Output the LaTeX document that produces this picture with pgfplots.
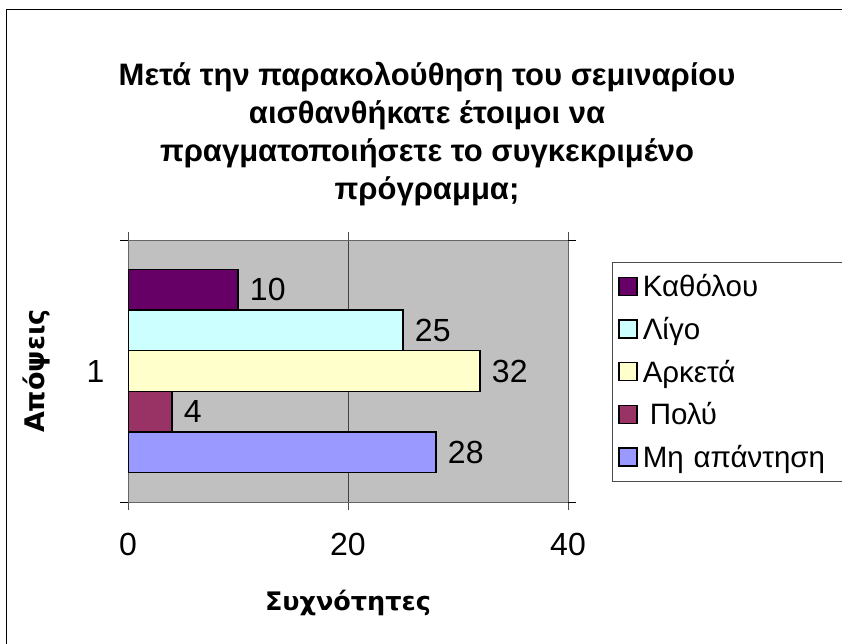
\documentclass[border=0pt]{standalone}
\usepackage{fontspec}
\setmainfont{Liberation Sans}
\newfontfamily\labfont{DejaVu Sans}
\usepackage{pgfplots}
\pgfplotsset{compat=1.18}
\definecolor{c1}{HTML}{660066}
\definecolor{c2}{HTML}{CCFFFF}
\definecolor{c3}{HTML}{FFFFCC}
\definecolor{c4}{HTML}{993366}
\definecolor{c5}{HTML}{9999FF}
\definecolor{bgplot}{HTML}{C0C0C0}
\begin{document}
\begin{tikzpicture}
\draw[line width=1pt] (6pt,633pt) -- (6pt,-20pt) (6pt,633pt) -- (860pt,633pt);
\node[font=\fontsize{31}{38}\selectfont\bfseries, align=center] at (427pt,509pt)
  {Μετά την παρακολούθηση του σεμιναρίου\\αισθανθήκατε έτοιμοι να\\πραγματοποιήσετε το συγκεκριμένο\\πρόγραμμα;};
\begin{axis}[
    at={(128pt,141pt)}, anchor=south west,
    scale only axis, width=440pt, height=262pt,
    xmin=0, xmax=40, ymin=0.5, ymax=1.5,
    xtick={0,20,40}, ytick={1},
    xtick align=outside, ytick align=outside,
    major tick length=8pt,
    y tick style={draw=none},
    extra y ticks={0.5,1.5}, extra y tick labels={},
    extra y tick style={y tick style={draw=black, line width=0.8pt}},
    x tick style={black!70, line width=0.8pt},
    xmajorgrids, grid style={black!75, line width=0.8pt},
    axis background/.style={fill=bgplot},
    axis line style={black!60, line width=0.8pt},
    tick label style={font=\fontsize{32}{34}\selectfont},
    /pgf/number format/assume math mode=true,
    xticklabel style={yshift=-20pt},
    yticklabel style={xshift=-12pt},
    xlabel={\labfont\bfseries Συχνότητες},
    ylabel={\labfont\bfseries Απόψεις},
    xlabel style={font=\fontsize{25.5}{30}\selectfont, at={(axis description cs:0.5,-0.385)}, anchor=center},
    ylabel style={font=\fontsize{27}{30}\selectfont, at={(axis description cs:-0.207,0.5)}, anchor=center},
    xbar, bar width=0.155,
    every axis plot/.append style={draw=black, line width=1.3pt},
    nodes near coords,
    nodes near coords style={font=\fontsize{32}{34}\selectfont, anchor=west, xshift=8pt, black},
    legend style={at={(1.1,0.916)}, anchor=north west, draw=black!70, line width=0.8pt,
        font=\fontsize{29.5}{31}\selectfont, row sep=15pt, inner ysep=10pt, inner xsep=6pt,
        text width=200pt, cells={anchor=west}},
    legend image code/.code={\draw[#1, draw=black, line width=1.4pt] (0pt,-9pt) rectangle (18pt,9pt);
        \path (21pt,0pt);},
]
\addplot[fill=c1, bar shift=0.31] coordinates {(10,1)};
\addlegendentry{Καθόλου}
\addplot[fill=c2, bar shift=0.155] coordinates {(25,1)};
\addlegendentry{Λίγο}
\addplot[fill=c3, bar shift=0] coordinates {(32,1)};
\addlegendentry{Αρκετά}
\addplot[fill=c4, bar shift=-0.155] coordinates {(4,1)};
\addlegendentry{\hspace{7pt}Πολύ}
\addplot[fill=c5, bar shift=-0.31] coordinates {(28,1)};
\addlegendentry{Μη απάντηση}
\end{axis}
\pgfresetboundingbox
\useasboundingbox (0,0) rectangle (842pt,643pt);
\end{tikzpicture}
\end{document}
